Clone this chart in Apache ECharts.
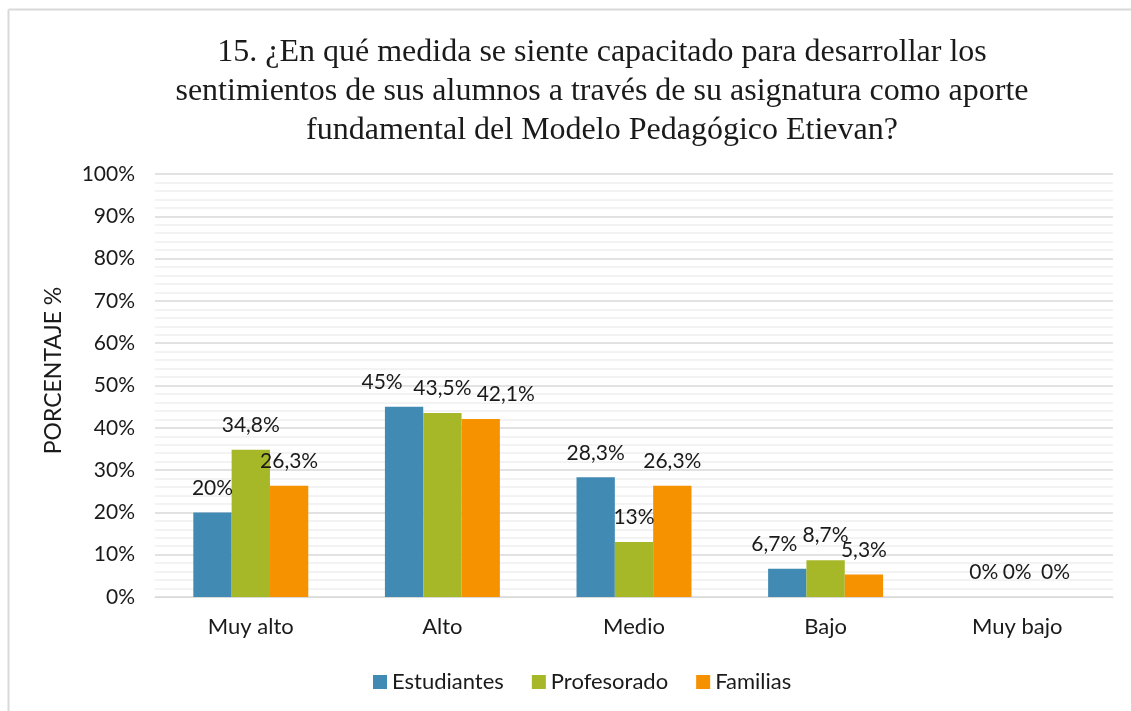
<!DOCTYPE html>
<html>
<head>
<meta charset="utf-8">
<script src="https://cdn.jsdelivr.net/npm/echarts@6/dist/echarts.min.js"></script>
<style>
  html, body { margin: 0; padding: 0; background: #ffffff; }
  #chart { width: 1131px; height: 711px; }
</style>
</head>
<body>
<div id="chart"></div>
<script>
// Survey question 15: answers per group, as percentages
const categories = ['Muy alto', 'Alto', 'Medio', 'Bajo', 'Muy bajo'];
const seriesNames = ['Estudiantes', 'Profesorado', 'Familias'];
const estudiantes = [20, 45, 28.3, 6.7, 0];
const profesorado = [34.8, 43.5, 13, 8.7, 0];
const familias = [26.3, 42.1, 26.3, 5.3, 0];
const yTicks = { min: 0, max: 100, interval: 10 };

const titleText = '15. ¿En qué medida se siente capacitado para desarrollar los\n' +
  'sentimientos de sus alumnos a través de su asignatura como aporte\n' +
  'fundamental del Modelo Pedagógico Etievan?';

const colors = ['#418AB3', '#A6B727', '#F69200'];
const sansFont = 'Lato';

// Horizontal nudges for value labels that would otherwise collide
// (keyed by series index, then category index)
const labelNudge = {
  0: { 1: -22, 3: -13, 4: 5 },
  2: { 1: 25 }
};

// Spanish decimal comma in the value labels
function pct(v) {
  return String(v).replace('.', ',') + '%';
}

function barSeries(idx, values) {
  const nudges = labelNudge[idx] || {};
  return {
    name: seriesNames[idx],
    type: 'bar',
    data: values.map(function (v, i) {
      const item = { value: v };
      if (nudges[i]) item.label = { offset: [nudges[i], 0] };
      return item;
    }),
    barGap: '0%',
    barCategoryGap: '40%',
    itemStyle: { color: colors[idx] },
    label: {
      show: true,
      position: 'top',
      distance: 14,
      fontFamily: sansFont,
      fontSize: 21,
      color: '#1a1a1a',
      formatter: function (p) { return pct(p.value); }
    }
  };
}

const chart = echarts.init(document.getElementById('chart'), null, { renderer: 'canvas' });

chart.setOption({
  animation: false,
  backgroundColor: '#ffffff',
  color: colors,
  title: {
    text: titleText,
    left: 597,
    top: 28,
    textAlign: 'center',
    textStyle: {
      fontFamily: 'Liberation Serif',
      fontWeight: 'normal',
      fontSize: 32,
      lineHeight: 39,
      color: '#1a1a1a'
    }
  },
  graphic: [
    { type: 'line', shape: { x1: 8.5, y1: 9.5, x2: 1131, y2: 9.5 }, style: { stroke: '#d9d9d9', lineWidth: 2 } },
    { type: 'line', shape: { x1: 8.5, y1: 9.5, x2: 8.5, y2: 711 }, style: { stroke: '#d9d9d9', lineWidth: 2 } }
  ],
  legend: {
    data: seriesNames,
    bottom: 13,
    left: 368,
    itemWidth: 14,
    itemHeight: 14,
    itemGap: 28,
    icon: 'rect',
    textStyle: { fontFamily: sansFont, fontSize: 22, color: '#1a1a1a' }
  },
  grid: { left: 155, right: 18, top: 174, bottom: 114, containLabel: false },
  xAxis: {
    type: 'category',
    data: categories,
    axisLine: { show: true, lineStyle: { color: '#d9d9d9', width: 1 } },
    axisTick: { show: false },
    axisLabel: { fontFamily: sansFont, fontSize: 22, color: '#1a1a1a', margin: 19 }
  },
  yAxis: {
    type: 'value',
    min: yTicks.min,
    max: yTicks.max,
    interval: yTicks.interval,
    name: 'PORCENTAJE %',
    nameLocation: 'middle',
    nameGap: 90,
    nameRotate: 90,
    nameTextStyle: { fontFamily: sansFont, fontSize: 23, color: '#1a1a1a', padding: [0, 0, 0, 30] },
    axisLine: { show: false },
    axisTick: { show: false },
    axisLabel: {
      fontFamily: sansFont,
      fontSize: 21,
      color: '#1a1a1a',
      margin: 20,
      formatter: '{value}%'
    },
    splitLine: { show: true, lineStyle: { color: '#d9d9d9', width: 1.5 } },
    minorTick: { show: false, splitNumber: 5 },
    minorSplitLine: { show: true, lineStyle: { color: '#efefef', width: 1.5 } }
  },
  series: [
    barSeries(0, estudiantes),
    barSeries(1, profesorado),
    barSeries(2, familias)
  ]
});
</script>
</body>
</html>
